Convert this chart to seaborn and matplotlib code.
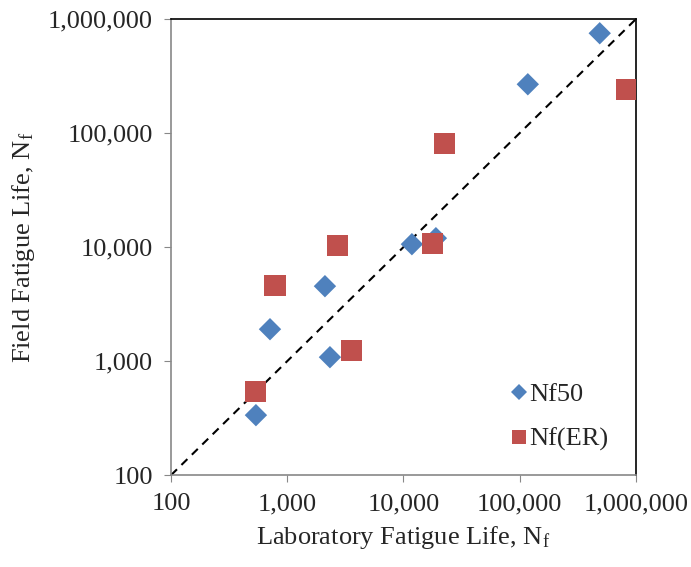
import numpy as np
import pandas as pd
import matplotlib.pyplot as plt
import matplotlib.ticker as mticker
import seaborn as sns

# ---- data ----
lab_nf50 = [538, 711, 2113, 2333, 11840, 19050, 117800, 490000]
field_nf50 = [336, 1908, 4550, 1084, 10630, 12000, 269000, 754000]

lab_nfer = [538, 785, 2733, 3606, 17950, 22750, 837000]
field_nfer = [545, 4640, 10420, 1248, 10840, 81700, 243000]

series_names = ["Nf50", "Nf(ER)"]
tick_vals = [100, 1000, 10000, 100000, 1000000]

df = pd.concat([
    pd.DataFrame({"lab": lab_nf50, "field": field_nf50, "series": series_names[0]}),
    pd.DataFrame({"lab": lab_nfer, "field": field_nfer, "series": series_names[1]}),
], ignore_index=True)

sns.set_style("white")
plt.rcParams["font.family"] = ["Liberation Serif", "DejaVu Serif"]
plt.rcParams["mathtext.fontset"] = "stix"

FS = 19

fig = plt.figure(figsize=(6.91, 5.67), dpi=100)
ax = fig.add_axes([0.2475, 0.162, 0.6725, 0.804])

# 1:1 line
ax.plot([100, 1e6], [100, 1e6], color="black", ls=(0, (4, 3)), lw=1.5, zorder=1)

sns.scatterplot(
    data=df, x="lab", y="field", hue="series", style="series",
    markers={"Nf50": "D", "Nf(ER)": "s"},
    palette={"Nf50": "#4F81BD", "Nf(ER)": "#C0504D"},
    size="series", sizes={"Nf50": 130, "Nf(ER)": 230},
    edgecolor="none", linewidth=0, ax=ax, zorder=3,
)

ax.set_xscale("log")
ax.set_yscale("log")
ax.set_xlim(100, 1e6)
ax.set_ylim(100, 1e6)
ax.set_xticks(tick_vals)
ax.set_yticks(tick_vals)
fmt = mticker.FuncFormatter(lambda v, p: f"{int(round(v)):,}")
ax.xaxis.set_major_formatter(fmt)
ax.yaxis.set_major_formatter(fmt)
ax.xaxis.set_minor_locator(mticker.NullLocator())
ax.yaxis.set_minor_locator(mticker.NullLocator())

for s in ["bottom", "left"]:
    ax.spines[s].set_color("#888888")
    ax.spines[s].set_linewidth(1.2)
for s in ["top", "right"]:
    ax.spines[s].set_color("black")
    ax.spines[s].set_linewidth(1.2)

ax.tick_params(axis="both", which="major", direction="out", length=5,
               color="#888888", labelsize=FS, pad=8,
               bottom=True, left=True)

ax.set_xlabel(r"Laboratory Fatigue Life, N$_\mathregular{f}$", fontsize=FS, labelpad=6)
ax.set_ylabel(r"Field Fatigue Life, N$_\mathregular{f}$", fontsize=FS, labelpad=8)

handles, labels = ax.get_legend_handles_labels()
ax.legend(handles=handles, labels=labels, loc="lower right",
          bbox_to_anchor=(0.992, 0.0), frameon=False, fontsize=FS,
          handletextpad=-0.6, labelspacing=0.8, markerscale=0.7)

fig.savefig("out.png", dpi=100)
